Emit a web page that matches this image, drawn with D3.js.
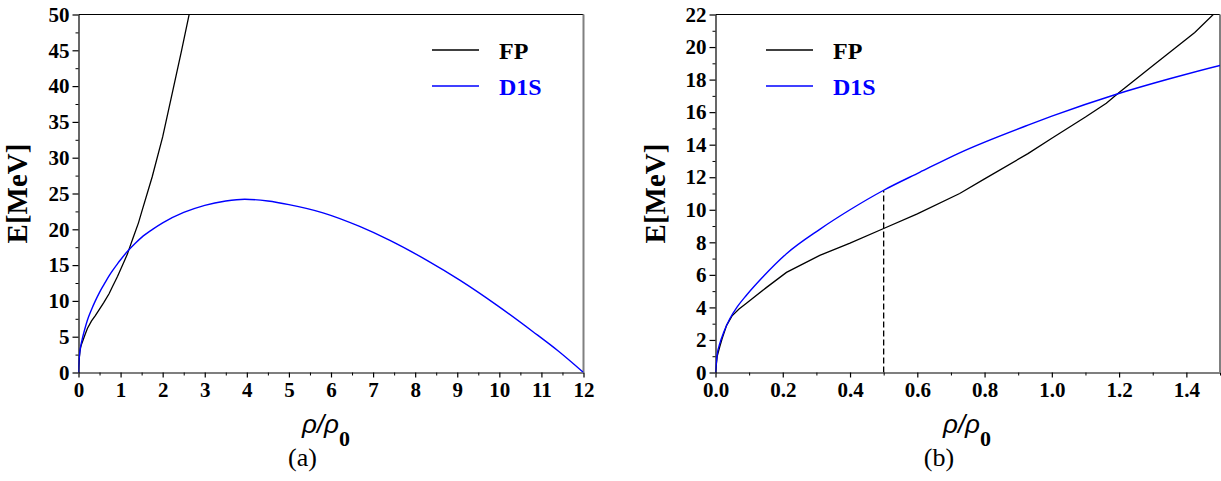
<!DOCTYPE html>
<html>
<head>
<meta charset="utf-8">
<script src="https://cdn.jsdelivr.net/npm/d3@7"></script>
<style>
  html, body { margin: 0; padding: 0; background: #fff; }
  svg { display: block; }
  svg text.bs { font-family: "Liberation Serif", "Times New Roman", serif; font-weight: 700; }
  svg text.rs { font-family: "Liberation Serif", "Times New Roman", serif; font-weight: 400; }
</style>
</head>
<body>
<svg id="chart" width="1221" height="481"></svg>
<script>
// ---------------- data ----------------
const seriesNames = ["FP", "D1S"];
const seriesColors = ["#000000", "#0000ff"];

// FP (black) energy per nucleon vs density
const fpRho = [0, 0.005, 0.0128, 0.02, 0.033, 0.05, 0.07, 0.092, 0.15, 0.211, 0.31, 0.4, 0.5, 0.6, 0.726,
               0.8, 0.929, 1.0, 1.1, 1.162, 1.2, 1.3, 1.425, 1.5, 1.75, 2.0, 2.25, 2.45, 2.64, 2.75];
const fpE   = [0, 1.0, 1.6, 2.1, 2.9, 3.5, 3.9, 4.25, 5.2, 6.15, 7.2, 7.95, 8.85, 9.75, 11.0,
               11.9, 13.45, 14.4, 15.7, 16.55, 17.2, 18.85, 20.9, 22.4, 27.3, 32.9, 39.6, 45.0, 50.3, 53.5];

// D1S (blue)
const d1sRho = [0, 0.005, 0.0128, 0.025, 0.0425, 0.065, 0.092, 0.142, 0.211, 0.31, 0.4, 0.5, 0.607, 0.726,
                0.929, 1.0, 1.192, 1.35, 1.5, 1.75, 2.0, 2.5, 3.0, 3.5, 3.95, 4.5, 5.0, 5.81, 6.68, 7.4,
                8.27, 9.06, 9.93, 10.8, 11.4, 12.0];
const d1sE   = [0, 1.1, 1.78, 2.5, 3.3, 4.05, 4.75, 5.9, 7.3, 8.8, 10.0, 11.2, 12.3, 13.5,
                15.2, 15.75, 17.1, 18.05, 18.87, 19.95, 20.9, 22.35, 23.35, 23.95, 24.2, 23.95, 23.45, 22.3, 20.4, 18.45,
                15.7, 12.9, 9.45, 5.7, 3.0, 0];

// reference density (dashed marker in panel b)
const markerRho = 0.5;

// ticks
const leftXTicks  = [0, 1, 2, 3, 4, 5, 6, 7, 8, 9, 10, 11, 12];
const leftXMinor  = [0.5, 1.5, 2.5, 3.5, 4.5, 5.5, 6.5, 7.5, 8.5, 9.5, 10.5, 11.5];
const leftYTicks  = [0, 5, 10, 15, 20, 25, 30, 35, 40, 45, 50];
const leftYMinor  = [2.5, 7.5, 12.5, 17.5, 22.5, 27.5, 32.5, 37.5, 42.5, 47.5];
const rightXTicks = [0, 0.2, 0.4, 0.6, 0.8, 1.0, 1.2, 1.4];
const rightXMinor = [0.1, 0.3, 0.5, 0.7, 0.9, 1.1, 1.3, 1.5];
const rightYTicks = [0, 2, 4, 6, 8, 10, 12, 14, 16, 18, 20, 22];
const rightYMinor = [1, 3, 5, 7, 9, 11, 13, 15, 17, 19, 21];

const yLabel = "E[MeV]";
const captions = ["(a)", "(b)"];

// ---------------- drawing ----------------
const svg = d3.select("#chart");

const fpData = fpRho.map((r, i) => ({x: r, y: fpE[i]}));
const d1sData = d1sRho.map((r, i) => ({x: r, y: d1sE[i]}));

function panel(cfg) {
  const x = d3.scaleLinear().domain(cfg.xDomain).range([cfg.left, cfg.right]);
  const y = d3.scaleLinear().domain(cfg.yDomain).range([cfg.bottom, cfg.top]);
  const g = svg.append("g");

  const clipId = "clip" + cfg.id;
  svg.append("defs").append("clipPath").attr("id", clipId)
    .append("rect").attr("x", cfg.left).attr("y", cfg.top)
    .attr("width", cfg.right - cfg.left).attr("height", cfg.bottom - cfg.top);

  // minor ticks
  const xMinorAxis = d3.axisBottom(x).tickValues(cfg.xMinor).tickSize(3).tickFormat("").tickSizeOuter(0);
  const yMinorAxis = d3.axisLeft(y).tickValues(cfg.yMinor).tickSize(3).tickFormat("").tickSizeOuter(0);
  g.append("g").attr("transform", `translate(0,${cfg.bottom})`).call(xMinorAxis).call(s => s.select(".domain").remove());
  g.append("g").attr("transform", `translate(${cfg.left},0)`).call(yMinorAxis).call(s => s.select(".domain").remove());

  // major axes
  const xAxis = d3.axisBottom(x).tickValues(cfg.xTicks).tickSize(5).tickSizeOuter(0).tickPadding(5)
    .tickFormat(cfg.xFmt);
  const yAxis = d3.axisLeft(y).tickValues(cfg.yTicks).tickSize(6).tickSizeOuter(0).tickPadding(3)
    .tickFormat(d3.format("d"));
  const gx = g.append("g").attr("transform", `translate(0,${cfg.bottom})`).call(xAxis);
  const gy = g.append("g").attr("transform", `translate(${cfg.left},0)`).call(yAxis);
  [gx, gy].forEach(a => {
    a.attr("font-family", null).attr("font-size", null);
    a.selectAll("text").attr("class", "bs").style("font-size", "21px").attr("fill", "#000");
    a.selectAll("line, path").attr("stroke", "#000").attr("stroke-width", 1.2);
  });
  gx.selectAll("text").attr("dy", "0.71em");

  // frame: top black, right gray
  g.append("line").attr("x1", cfg.left).attr("x2", cfg.right).attr("y1", cfg.top).attr("y2", cfg.top)
    .attr("stroke", "#000").attr("stroke-width", 1.2);
  g.append("line").attr("x1", cfg.right).attr("x2", cfg.right).attr("y1", cfg.top).attr("y2", cfg.bottom)
    .attr("stroke", "#808080").attr("stroke-width", 2);

  // curves
  const lineFP = d3.line().x(d => x(d.x)).y(d => y(d.y)).curve(d3.curveLinear);
  const lineD1S = d3.line().x(d => x(d.x)).y(d => y(d.y)).curve(d3.curveMonotoneX);
  const cg = g.append("g").attr("clip-path", `url(#${clipId})`);

  if (cfg.marker) {
    const idx = d1sRho.indexOf(markerRho);
    cg.append("line").attr("x1", x(markerRho)).attr("x2", x(markerRho))
      .attr("y1", y(0)).attr("y2", y(d1sE[idx]))
      .attr("stroke", "#000").attr("stroke-width", 1.3).attr("stroke-dasharray", "6,3");
  }
  cg.append("path").datum(fpData).attr("d", lineFP).attr("fill", "none")
    .attr("stroke", seriesColors[0]).attr("stroke-width", 1.3);
  cg.append("path").datum(d1sData).attr("d", lineD1S).attr("fill", "none")
    .attr("stroke", seriesColors[1]).attr("stroke-width", 1.4);

  // legend
  seriesNames.forEach((name, i) => {
    const ly = cfg.legendY + i * 36;
    g.append("line").attr("x1", cfg.legendX).attr("x2", cfg.legendX + 47)
      .attr("y1", ly).attr("y2", ly).attr("stroke", seriesColors[i]).attr("stroke-width", 1.3);
    g.append("text").attr("class", "bs").attr("x", cfg.legendX + 67).attr("y", ly + 9)
      .style("font-size", "24px").attr("fill", seriesColors[i]).text(name);
  });

  // y label
  g.append("text").attr("class", "bs")
    .attr("transform", `translate(${cfg.yLabelX},${(cfg.top + cfg.bottom) / 2}) rotate(-90)`)
    .attr("text-anchor", "middle").style("font-size", "29px").attr("fill", "#000").text(yLabel);

  // x label rho/rho_0
  const xl = g.append("text").attr("x", cfg.xLabelX).attr("y", 433).attr("text-anchor", "middle")
    .attr("fill", "#000");
  xl.append("tspan").style("font-family", "'Liberation Sans'").style("font-style", "italic")
    .style("font-size", "26px").text("ρ/ρ");
  xl.append("tspan").style("font-family", "'Liberation Serif'").style("font-weight", "700")
    .style("font-size", "22px").attr("dy", 13).text("0");

  // caption
  g.append("text").attr("class", "rs").attr("x", cfg.captionX).attr("y", 466).attr("text-anchor", "middle")
    .style("font-size", "26px").attr("fill", "#000").text(cfg.caption);
}

panel({
  id: "a", left: 78.5, right: 583.5, top: 14.5, bottom: 372.5,
  xDomain: [0, 12], yDomain: [0, 50],
  xTicks: leftXTicks, xMinor: leftXMinor, yTicks: leftYTicks, yMinor: leftYMinor,
  xFmt: d3.format("d"),
  legendX: 432, legendY: 50, yLabelX: 27, xLabelX: 326, captionX: 302.5, caption: captions[0],
  marker: false
});

panel({
  id: "b", left: 715.5, right: 1220, top: 14.5, bottom: 372.5,
  xDomain: [0, 1.5], yDomain: [0, 22],
  xTicks: rightXTicks, xMinor: rightXMinor, yTicks: rightYTicks, yMinor: rightYMinor,
  xFmt: d3.format(".1f"),
  legendX: 766, legendY: 50, yLabelX: 665, xLabelX: 967, captionX: 939, caption: captions[1],
  marker: true
});
</script>
</body>
</html>
